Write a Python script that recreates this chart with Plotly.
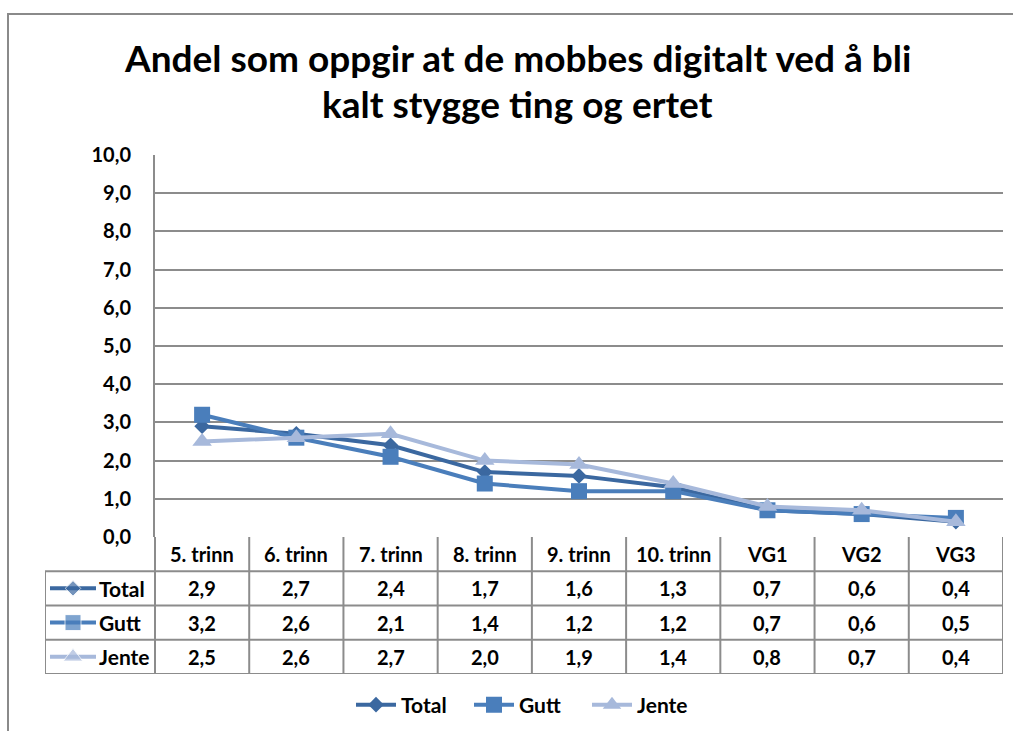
import plotly.graph_objects as go

# data
categories = ["5. trinn", "6. trinn", "7. trinn", "8. trinn", "9. trinn",
              "10. trinn", "VG1", "VG2", "VG3"]
total = [2.9, 2.7, 2.4, 1.7, 1.6, 1.3, 0.7, 0.6, 0.4]
gutt = [3.2, 2.6, 2.1, 1.4, 1.2, 1.2, 0.7, 0.6, 0.5]
jente = [2.5, 2.6, 2.7, 2.0, 1.9, 1.4, 0.8, 0.7, 0.4]
y_ticks = [0, 1, 2, 3, 4, 5, 6, 7, 8, 9, 10]
title_lines = ["Andel som oppgir at de mobbes digitalt ved å bli",
               "kalt stygge ting og ertet"]

W, H = 1013, 731
FONT = "Lato"
GRID = "#8c8c8c"

series = [
    ("Total", total, "#3b68a0", "diamond", 12),
    ("Gutt", gutt, "#4a7ebb", "square", 16),
    ("Jente", jente, "#a7b9db", "triangle-up", 17),
]

# pixel layout of the chart (plot area + data table underneath)
plot_l, plot_r, plot_t, plot_b = 155, 1003, 155, 537
table_l, table_b = 45, 674
n = len(categories)
unit = (plot_r - plot_l) / n          # pixels per category
x2_min = -0.5 - (plot_l - table_l) / unit


def px2x(p):
    return -0.5 + (p - plot_l) / unit


fig = go.Figure()

for name, vals, color, sym, size in series:
    fig.add_trace(go.Scatter(
        x=categories, y=vals, name=name, mode="lines+markers",
        line=dict(color=color, width=4),
        marker=dict(symbol=sym, size=size, color=color),
        xaxis="x", yaxis="y", cliponaxis=False,
    ))

# legend keys inside the data table
for r, (name, vals, color, sym, size) in enumerate(series):
    fig.add_trace(go.Scatter(
        x=[px2x(50), px2x(73), px2x(96)], y=[r + 1.5] * 3,
        mode="lines+markers", showlegend=False, hoverinfo="skip",
        line=dict(color=color, width=4),
        marker=dict(symbol=sym, size=[0, size, 0], color=color),
        xaxis="x2", yaxis="y2",
    ))

shapes = []
line = dict(color=GRID, width=2)
# horizontal table lines
for r in range(1, 5):
    shapes.append(dict(type="line", xref="x2", yref="y2", x0=x2_min, x1=n - 0.5,
                       y0=r, y1=r, line=line))
# vertical table lines
for k in range(n + 1):
    shapes.append(dict(type="line", xref="x2", yref="y2", x0=k - 0.5, x1=k - 0.5,
                       y0=0, y1=4, line=line))
shapes.append(dict(type="line", xref="x2", yref="y2", x0=x2_min, x1=x2_min,
                   y0=1, y1=4, line=line))
# outer chart border (only top and left edges are inside the picture)
shapes.append(dict(type="rect", xref="paper", yref="paper",
                   x0=8 / W, x1=1.05, y0=-0.05, y1=1 - 14 / H,
                   line=dict(color="#8a8a8a", width=2)))

annotations = []
num_font = dict(family=FONT, size=20, color="black", weight="bold")
lab_font = dict(family=FONT, size=21, color="black", weight="bold")
for i, c in enumerate(categories):
    annotations.append(dict(x=i, y=0.5, xref="x2", yref="y2", text=c,
                            showarrow=False, font=num_font))
for r, (name, vals, color, sym, size) in enumerate(series):
    annotations.append(dict(x=px2x(97), y=r + 1.5, xref="x2", yref="y2",
                            text=name, showarrow=False, xanchor="left",
                            font=lab_font))
    for i, v in enumerate(vals):
        annotations.append(dict(x=i, y=r + 1.5, xref="x2", yref="y2",
                                text=f"{v:.1f}".replace(".", ","),
                                showarrow=False, font=num_font))
for k, t in enumerate(title_lines):
    annotations.append(dict(x=517 / W, y=1 - (57 + 46 * k) / H, xref="paper",
                            yref="paper", text=t, showarrow=False,
                            yanchor="middle",
                            font=dict(family=FONT, size=37, color="black",
                                      weight="bold")))

fig.update_layout(
    width=W, height=H,
    margin=dict(l=0, r=0, t=0, b=0, autoexpand=False),
    paper_bgcolor="white", plot_bgcolor="white",
    separators=", ",
    showlegend=True,
    legend=dict(orientation="h", x=528 / W, xanchor="center",
                y=1 - 705 / H, yanchor="middle",
                font=lab_font, itemwidth=40,
                entrywidth=63, entrywidthmode="pixels"),
    xaxis=dict(domain=[plot_l / W, plot_r / W], range=[-0.5, n - 0.5],
               type="category", showticklabels=False, showgrid=False,
               zeroline=False, showline=False, automargin=False),
    yaxis=dict(domain=[1 - plot_b / H, 1 - plot_t / H], range=[0, 10],
               tickvals=y_ticks, tickformat=".1f",
               tickfont=num_font, ticklabelstandoff=18, automargin=False,
               showgrid=True, gridcolor=GRID, gridwidth=2,
               zeroline=False, showline=True, linecolor=GRID, linewidth=2),
    xaxis2=dict(domain=[table_l / W, plot_r / W], range=[x2_min, n - 0.5],
                visible=False, anchor="y2", automargin=False),
    yaxis2=dict(domain=[1 - table_b / H, 1 - plot_b / H], range=[4, 0],
                visible=False, anchor="x2", automargin=False),
    shapes=shapes,
    annotations=annotations,
)

# the page has a default 8px body margin; remove it so the figure sits at 0,0
fig.write_html("out.html", config={"displayModeBar": False},
               post_script="document.body.style.margin='0px';")
